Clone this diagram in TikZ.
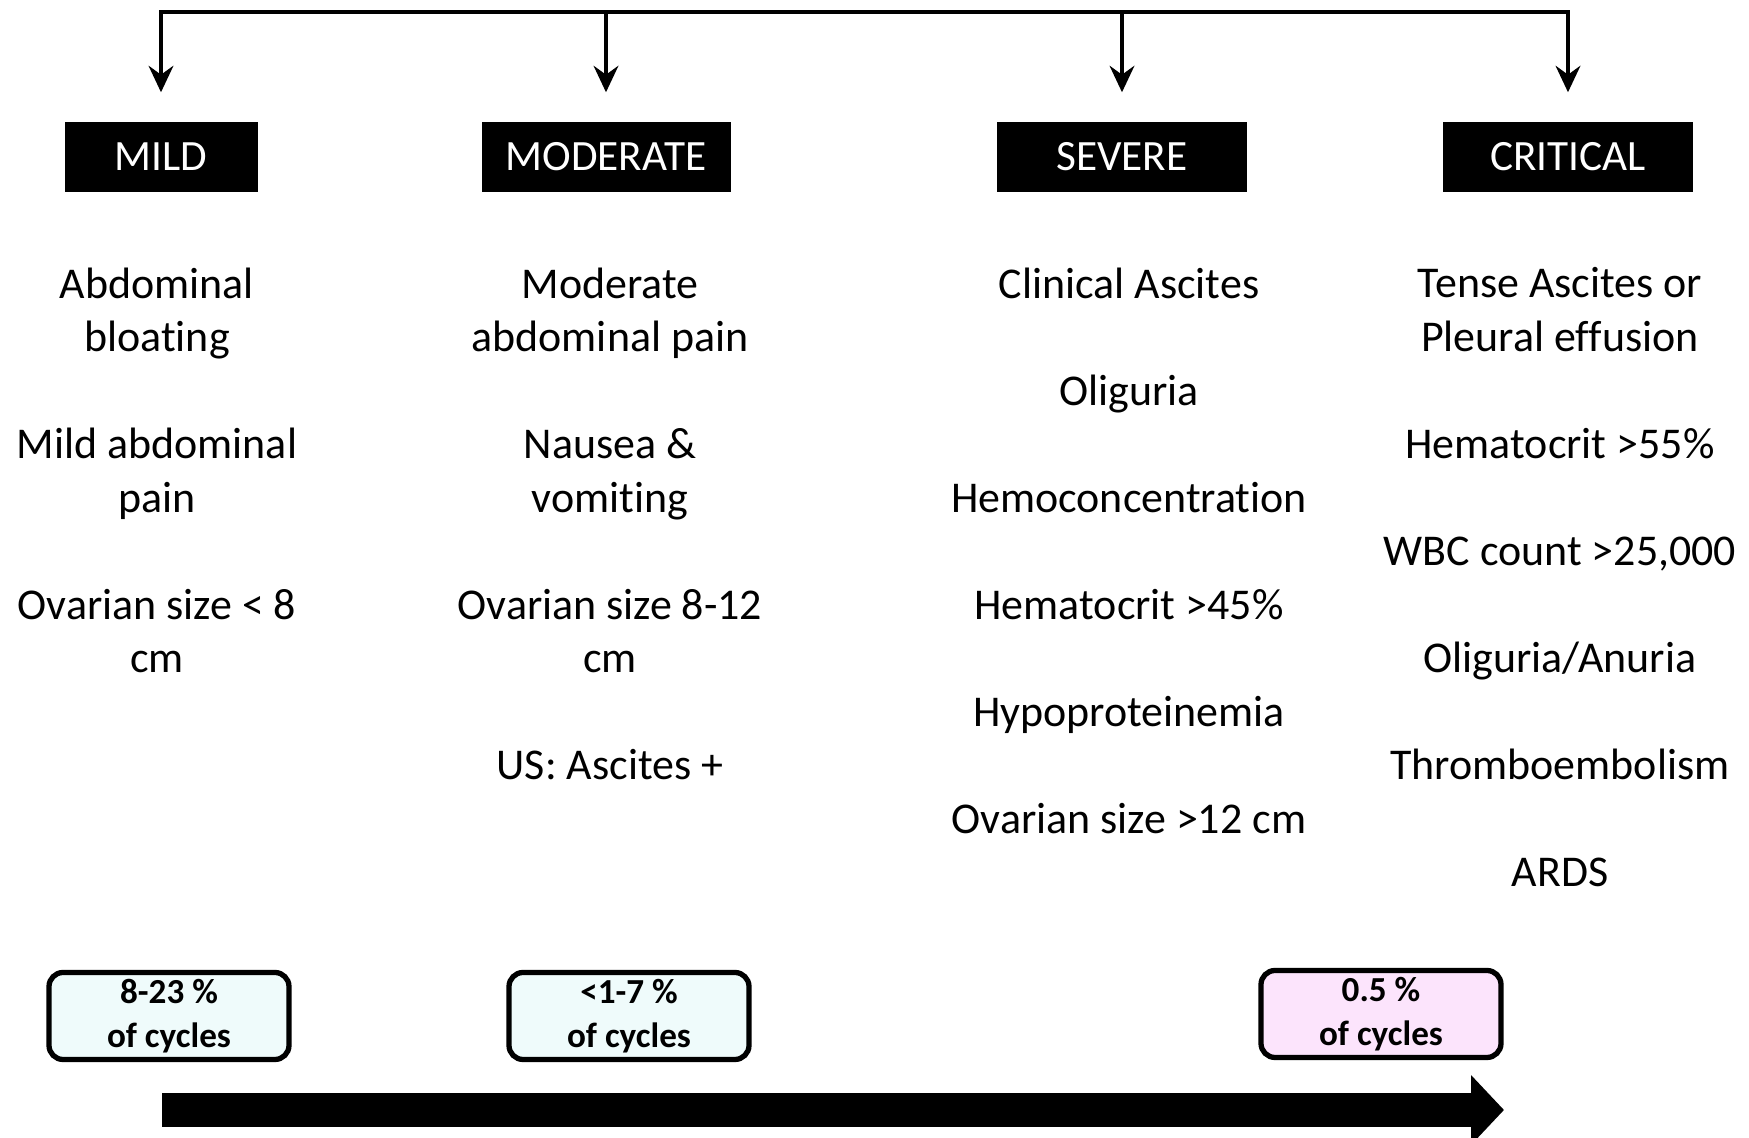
\documentclass[tikz,border=0pt]{standalone}
\usepackage{fontspec}
\setmainfont{Carlito}[Ligatures={NoCommon}]
\usetikzlibrary{arrows.meta}
\definecolor{my_lightcyan}{HTML}{EFFBFB}
\definecolor{my_lightpink}{HTML}{FCE4FC}

\begin{document}
\begin{tikzpicture}[
    stage/.style={fill=black, text=white, inner sep=0pt, minimum height=0.70cm,
        font=\fontsize{12.3}{14.8}\selectfont},
    symptoms/.style={anchor=north, align=center, inner sep=0pt,
        font=\fontsize{12.5}{15.22}\selectfont},
    share/.style={draw=black, line width=1.5pt, rounded corners=4pt, align=center,
        minimum width=2.40cm, minimum height=0.87cm, inner sep=0pt,
        font=\bfseries\fontsize{10}{12.4}\selectfont},
    branch/.style={draw=black, line width=1.4pt,
        -{Stealth[length=7.5pt, width=7pt, inset=2.5pt]}}
]
\useasboundingbox (0,0) rectangle (17.49,11.38);

% ----------------------------------------------------------
% Stufen (schwarze Kopfboxen)
% ----------------------------------------------------------
\node[stage, minimum width=1.93cm] (mild)     at (1.61,9.81)  {MILD};
\node[stage, minimum width=2.49cm] (moderate) at (6.06,9.81)  {MODERATE};
\node[stage, minimum width=2.50cm] (severe)   at (11.22,9.81) {SEVERE};
\node[stage, minimum width=2.50cm] (critical) at (15.68,9.81) {CRITICAL};

% Verteiler oben
\coordinate (top) at (0,11.26);
\draw[black, line width=1.4pt, line cap=rect]
    (mild.north |- top) -- (critical.north |- top);
\foreach \n in {mild, moderate, severe, critical} {
    \draw[branch] (\n.north |- top) -- ([yshift=0.29cm]\n.north);
}

% ----------------------------------------------------------
% Symptome je Stufe
% ----------------------------------------------------------
\node[symptoms] (mildtext) at (1.57,8.71)
    {Abdominal\\bloating\\[\baselineskip]
     Mild abdominal\\pain\\[\baselineskip]
     Ovarian size < 8\\cm};

\node[symptoms] (moderatetext) at (6.10,8.71)
    {Moderate\\abdominal pain\\[\baselineskip]
     Nausea \&\\vomiting\\[\baselineskip]
     Ovarian size 8-12\\cm\\[\baselineskip]
     US: Ascites +};

\node[symptoms] (severetext) at (11.29,8.71)
    {Clinical Ascites\\[\baselineskip]
     Oliguria\\[\baselineskip]
     Hemoconcentration\\[\baselineskip]
     Hematocrit >45\%\\[\baselineskip]
     Hypoproteinemia\\[\baselineskip]
     Ovarian size >12 cm};

\node[symptoms] (criticaltext) at (15.60,8.71)
    {Tense Ascites or\\Pleural effusion\\[\baselineskip]
     Hematocrit >55\%\\[\baselineskip]
     WBC count >25,000\\[\baselineskip]
     Oliguria/Anuria\\[\baselineskip]
     Thromboembolism\\[\baselineskip]
     ARDS};

% ----------------------------------------------------------
% Haeufigkeiten
% ----------------------------------------------------------
\node[share, fill=my_lightcyan] (pmild)     at (1.69,1.22)  {8-23 \%\\of cycles};
\node[share, fill=my_lightcyan] (pmoderate) at (6.29,1.22)  {<1-7 \%\\of cycles};
\node[share, fill=my_lightpink] (pcritical) at (13.81,1.24) {0.5 \%\\of cycles};

% Schweregrad-Pfeil
\coordinate (start) at (1.62,0.28);
\coordinate (end)   at (15.04,0.28);
\draw[black, line width=0.34cm, -{Triangle[length=0.33cm, width=0.68cm]}]
    (start) -- (end);

\end{tikzpicture}
\end{document}
